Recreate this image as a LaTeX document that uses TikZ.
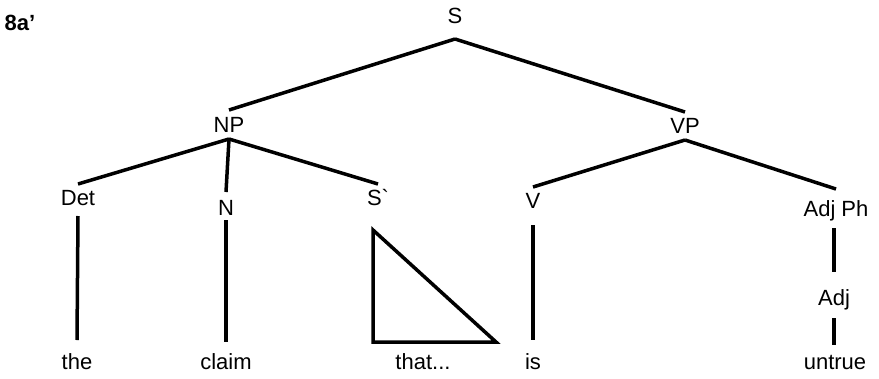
\documentclass[tikz,border=0pt]{standalone}
\usepackage{fontspec}
\setmainfont{Liberation Sans}
\begin{document}
\begin{tikzpicture}[x=1pt,y=-1pt,
  lbl/.style={font=\fontsize{22}{26}\selectfont, inner sep=0pt, outer sep=0pt, text height=16pt, text depth=0pt},
  edge/.style={line width=3.5pt}]
\useasboundingbox (0,0) rectangle (879,378);
% labels
\node[lbl,font=\fontsize{22}{26}\selectfont\bfseries] (num) at (20,22) {8a'};
\node[lbl] (S) at (455,15) {S};
\node[lbl] (NP) at (229,124) {NP};
\node[lbl] (VP) at (685,125) {VP};
\node[lbl] (Det) at (78,197) {Det};
\node[lbl] (N) at (226,207) {N};
\node[lbl] (Sp) at (378,197) {S\textasciigrave};
\node[lbl] (V) at (533,200) {V};
\node[lbl] (AdjPh) at (836,208) {Adj Ph};
\node[lbl] (Adj) at (834,297) {Adj};
\node[lbl] (the) at (77,361) {the};
\node[lbl] (claim) at (226,361) {claim};
\node[lbl] (that) at (423,361) {that...};
\node[lbl] (is) at (533,361) {is};
\node[lbl] (untrue) at (835,361) {untrue};
% branches
\draw[edge] ([yshift=-16pt]S.south) -- ([yshift=6pt]NP.north);
\draw[edge] ([yshift=-16pt]S.south) -- ([yshift=5pt]VP.north);
\draw[edge] ([yshift=-7pt]NP.south) -- ([yshift=5pt]Det.north);
\draw[edge] ([yshift=-7pt]NP.south) -- ([yshift=7pt]N.north);
\draw[edge] ([yshift=-7pt]NP.south) -- ([yshift=5pt]Sp.north);
\draw[edge] ([yshift=-7pt]VP.south) -- ([yshift=5pt]V.north);
\draw[edge] ([yshift=-7pt]VP.south) -- ([yshift=11pt]AdjPh.north);
% vertical lines
\draw[edge] ([yshift=-11pt]Det.south) -- ([yshift=13pt]the.north);
\draw[edge] ([yshift=-5pt]N.south) -- ([yshift=11pt]claim.north);
\draw[edge] ([yshift=-17pt]V.south) -- ([yshift=13pt]is.north);
\draw[edge] ([xshift=-2pt,yshift=-12pt]AdjPh.south) -- ([yshift=17pt]Adj.north);
\draw[edge] ([yshift=-13pt]Adj.south) -- ([xshift=-1pt,yshift=8pt]untrue.north);
% triangle under S'
\draw[edge,line join=miter] ([xshift=-5pt,yshift=-25pt]Sp.south) coordinate (tt) -- ++(0,112) -- ++(123,0) -- cycle;
\end{tikzpicture}
\end{document}
